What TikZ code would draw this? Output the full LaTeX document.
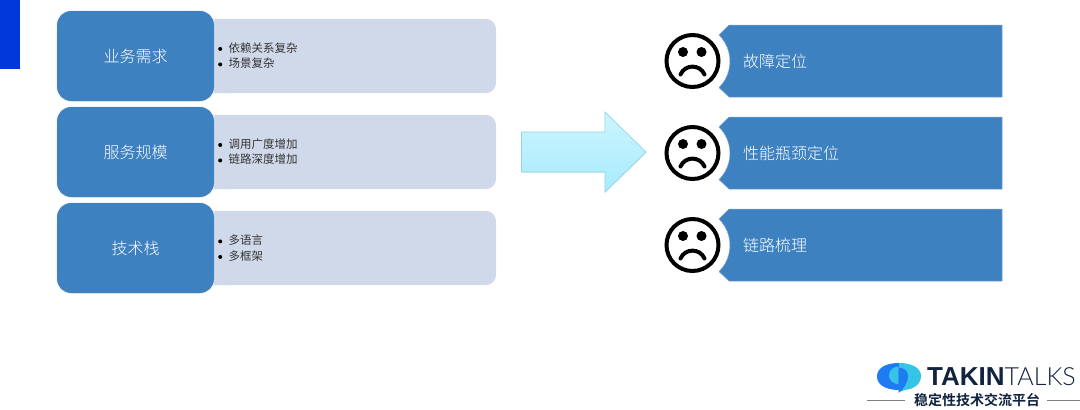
\documentclass[tikz,border=0pt]{standalone}
\usepackage{fontspec}
\setmainfont{Noto Sans CJK SC}[Scale=1]
\newfontfamily\cjkl{Noto Sans CJK SC Light}
\newfontfamily\cjkb{Noto Sans CJK SC Bold}
\newfontfamily\latb{Liberation Sans}[BoldFont=* Bold]
\newfontfamily\latl{Lato Light}
\usetikzlibrary{shadows}
\definecolor{mainblue}{HTML}{3E81C1}
\definecolor{paleblue}{HTML}{D0D9EA}
\definecolor{bar}{HTML}{0038DC}
\definecolor{navy}{HTML}{12233F}
\definecolor{arrowtop}{HTML}{CDF5FF}
\definecolor{arrowbot}{HTML}{A6EBFE}
\definecolor{arrowline}{HTML}{93D5E4}
\definecolor{logoblue}{HTML}{1F7BF2}
\definecolor{logoteal}{HTML}{35C4E6}
\tikzset{
  x=1pt,y=-1pt,
  headbox/.style={draw=white,line width=.4pt,fill=mainblue,rounded corners=14pt,minimum width=157.5pt,minimum height=90.5pt,inner sep=0pt,text=white,font=\cjkl\fontsize{16}{18}\selectfont},
  bodytext/.style={anchor=west,inner sep=0pt,align=left,font=\fontsize{11.5}{15.5}\selectfont,text=black!80},
  sidelabel/.style={anchor=west,inner sep=0pt,text=white,font=\cjkl\fontsize{16}{18}\selectfont},
  lightshape/.style={fill=paleblue,rounded corners=10pt},
  tagshape/.style={fill=mainblue,draw=mainblue!70!white,line width=.5pt},
  facering/.style={draw=black,line width=4pt,fill=white},
}
\newcommand{\bul}{\tikz[baseline=-3.2pt]\fill[black] (0,0) circle (2pt);\hspace{6.5pt}}
\newcommand{\lightbox}[1]{%
  \path[lightshape] (214,#1-37) -- (496,#1-37) -- (496,#1+37) -- (214,#1+37) -- cycle;}
\newcommand{\tagrow}[1]{%
  \draw[tagshape] (1002,#1-36) -- (729,#1-36) -- (719,#1-26)
    arc[start angle=-45.3,end angle=45.3,radius=37,y radius=37] -- (729,#1+36) -- (1002,#1+36) -- cycle;
  \draw[facering] (692.5,#1) circle (26);
  \fill[black] (683,#1-9) circle (5) (701.5,#1-9) circle (5);
  \draw[black,line width=4pt,line cap=round] (680.5,#1+13.5) .. controls (685,#1+3) and (700,#1+3) .. (704.5,#1+13.5);}
\begin{document}
\begin{tikzpicture}
\useasboundingbox (0,0) rectangle (1080,410);
\fill[white] (0,0) rectangle (1080,410);
\fill[bar] (0,0) rectangle (20,69);

\lightbox{56}
\lightbox{152}
\lightbox{248}
\fill[paleblue] (214,19) rectangle (230,93) (214,115) rectangle (230,189) (214,211) rectangle (230,285);

\node[headbox] (h1) at (135.5,56) {业务需求};
\node[headbox] (h2) at (135.5,152) {服务规模};
\node[headbox] (h3) at (135.5,248) {技术栈};

\node[bodytext] (b1) at (218,55.5) {\bul 依赖关系复杂\\\bul 场景复杂};
\node[bodytext] (b2) at (218,151.5) {\bul 调用广度增加\\\bul 链路深度增加};
\node[bodytext] (b3) at (218,248) {\bul 多语言\\\bul 多框架};

\shade[top color=arrowtop,bottom color=arrowbot,draw=arrowline,line width=.7pt,drop shadow={opacity=.15,shadow xshift=.5pt,shadow yshift=-1pt}]
  (521.5,132) -- (605,132) -- (605,112) -- (646,152) -- (605,192) -- (605,172) -- (521.5,172) -- cycle;

\tagrow{61}
\tagrow{153}
\tagrow{245}
\node[sidelabel] (s1) at (743,61) {故障定位};
\node[sidelabel] (s2) at (743,153) {性能瓶颈定位};
\node[sidelabel] (s3) at (743,245) {链路梳理};

% logo
\fill[logoblue] (899,363) .. controls (884,363) and (877,369) .. (877,376.5) .. controls (877,385) and (886,390) .. (899,390) -- cycle;
\fill[logoteal] (899,363) .. controls (912,363) and (921,368) .. (921,376) .. controls (921,384) and (914,389) .. (905,390) -- (899,392) -- (899,363) -- cycle;
\fill[logoteal] (898.5,366.5) .. controls (892,367) and (889,371) .. (889,375.5) .. controls (889,380) and (893,384) .. (898.5,384) -- cycle;
\fill[logoblue] (898.5,367.5) .. controls (904,367.5) and (908,371) .. (908,376) .. controls (908,382) and (904,389) .. (898.5,393) -- cycle;
\node[anchor=base west,inner sep=0pt,text=navy,font=\latb\bfseries\fontsize{26}{28}\selectfont] (lg1) at (927,385.5) {TAKIN};
\node[anchor=base west,inner sep=0pt,text=navy,font=\latl\fontsize{25}{28}\selectfont] (lg2) at (1004.5,385.5) {TALKS};
\node[anchor=center,inner sep=0pt,text=navy,font=\cjkb\fontsize{14}{14}\selectfont] (lg3) at (977,400) {稳定性技术交流平台};
\coordinate (l1) at (867,400);
\coordinate (l2) at (905,400);
\coordinate (l3) at (1047,400);
\coordinate (l4) at (1080,400);
\draw[gray,line width=.7pt] (l1) -- (l2) (l3) -- (l4);
\end{tikzpicture}
\end{document}
